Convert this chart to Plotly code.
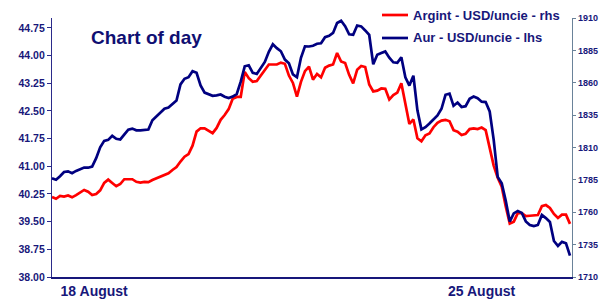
import plotly.graph_objects as go

# Silver (Argint) USD/oz - left axis values as plotted
silver = [40.17, 40.12, 40.20, 40.18, 40.21, 40.16, 40.22, 40.29, 40.36, 40.31,
          40.22, 40.25, 40.35, 40.55, 40.64, 40.55, 40.46, 40.52, 40.65, 40.65,
          40.65, 40.58, 40.56, 40.58, 40.57, 40.63, 40.67, 40.72, 40.76, 40.81,
          40.90, 40.98, 41.13, 41.26, 41.33, 41.56, 41.94, 42.03, 42.03, 41.97,
          41.90, 42.04, 42.26, 42.39, 42.55, 42.83, 42.88, 42.88, 43.56, 43.39,
          43.29, 43.31, 43.45, 43.61, 43.76, 43.76, 43.76, 43.81, 43.78, 43.46,
          43.26, 42.89, 43.29, 43.58, 43.70, 43.35, 43.50, 43.41, 43.67, 43.73,
          43.76, 44.07, 43.84, 43.80, 43.48, 43.25, 43.62, 43.72, 43.69, 43.22,
          43.03, 43.05, 43.11, 43.10, 42.81, 42.93, 43.00, 43.25, 42.65, 42.15,
          42.27, 41.76, 41.68, 41.84, 41.89, 42.06, 42.18, 42.24, 42.26, 42.22,
          41.98, 41.94, 41.85, 41.88, 42.01, 42.03, 42.01, 42.05, 41.98, 41.50,
          41.02, 40.69, 40.45, 39.91, 39.45, 39.50, 39.73, 39.73, 39.65, 39.66,
          39.66, 39.68, 39.92, 39.95, 39.87, 39.71, 39.60, 39.69, 39.69, 39.44]

# Gold (Aur) USD/oz - right axis values as plotted
gold = [1786.2, 1785.1, 1787.8, 1791.1, 1791.6, 1790.2, 1791.9, 1792.9, 1794.5, 1794.4,
        1795.3, 1801.8, 1810.1, 1815.1, 1815.9, 1819.0, 1816.7, 1816.2, 1819.6, 1823.7,
        1824.6, 1823.3, 1823.3, 1823.4, 1823.9, 1831.1, 1834.1, 1837.7, 1840.0, 1840.8,
        1843.2, 1846.2, 1858.7, 1863.1, 1864.3, 1868.9, 1867.7, 1858.0, 1852.4, 1851.0,
        1849.9, 1850.2, 1850.9, 1849.2, 1848.2, 1849.3, 1851.2, 1860.8, 1872.7, 1873.5,
        1867.7, 1866.8, 1871.0, 1876.1, 1883.9, 1889.7, 1886.7, 1884.3, 1877.9, 1875.1,
        1866.4, 1864.2, 1879.3, 1888.1, 1888.0, 1888.6, 1890.1, 1890.5, 1895.2, 1896.3,
        1898.5, 1906.1, 1907.9, 1903.7, 1897.4, 1897.1, 1904.2, 1903.5, 1900.4, 1896.9,
        1874.3, 1881.6, 1882.9, 1884.2, 1879.4, 1875.8, 1875.4, 1879.7, 1864.2, 1857.8,
        1865.4, 1838.7, 1824.0, 1825.7, 1828.5, 1831.6, 1834.8, 1839.9, 1850.7, 1851.6,
        1842.2, 1844.7, 1841.3, 1841.9, 1847.6, 1849.3, 1848.0, 1845.4, 1845.1, 1837.9,
        1815.9, 1787.3, 1782.4, 1768.8, 1752.8, 1759.1, 1761.0, 1759.5, 1752.9, 1750.2,
        1749.3, 1750.2, 1757.9, 1755.5, 1752.5, 1737.8, 1734.0, 1737.1, 1736.0, 1726.5]

idx = list(range(len(silver)))

left_ticks = [38.00, 38.75, 39.50, 40.25, 41.00, 41.75, 42.50, 43.25, 44.00, 44.75]
right_ticks = [1710, 1735, 1760, 1785, 1810, 1835, 1860, 1885, 1910]
x_label_pos = [10.5, 107]
x_labels = ["18 August", "25 August"]
series_names = ["Argint - USD/uncie - rhs", "Aur - USD/uncie - lhs"]
series_colors = ["#ff0000", "#000080"]

NAVY = "#17177a"
FONT = "Liberation Sans"

# page body has an 8px default margin: figure is drawn from (8, 8)
OFF = 8
W, H = 608 - OFF, 299 - OFF
L, R, T, B = 52 - OFF, 36, 18 - OFF, 22
PW, PH = W - L - R, H - T - B
PLOT_BOTTOM = 277


def px_x(px):
    return (px - 52) / PW


def px_y(py):
    return (PLOT_BOTTOM - py) / PH


fig = go.Figure()
fig.add_trace(go.Scatter(x=idx, y=silver, name=series_names[0],
                         mode="lines", line=dict(color=series_colors[0], width=2.7),
                         yaxis="y"))
fig.add_trace(go.Scatter(x=idx, y=gold, name=series_names[1],
                         mode="lines", line=dict(color=series_colors[1], width=2.7),
                         yaxis="y2"))

# manual legend (sample line + label)
shapes = []
annotations = []
for k, (nm, col) in enumerate(zip(series_names, series_colors)):
    yy = px_y(15 + 23 * k)
    shapes.append(dict(type="line", xref="paper", yref="paper",
                       x0=px_x(382), x1=px_x(408), y0=yy, y1=yy,
                       line=dict(color=col, width=2.7)))
    annotations.append(dict(text=nm, xref="paper", yref="paper",
                            x=px_x(411), y=yy, xanchor="left", yanchor="middle",
                            showarrow=False,
                            font=dict(family=FONT, size=13, color=NAVY, weight="bold")))

annotations.append(dict(text="Chart of day", xref="paper", yref="paper",
                        x=px_x(89), y=px_y(38),
                        xanchor="left", yanchor="middle", showarrow=False,
                        font=dict(family=FONT, size=19, color="#0f0f72", weight="bold")))

fig.update_layout(
    width=W, height=H,
    margin=dict(l=L, r=R, t=T, b=B, autoexpand=False),
    paper_bgcolor="white", plot_bgcolor="white",
    font=dict(family=FONT, color=NAVY),
    showlegend=False,
    xaxis=dict(range=[0, 129.5], showgrid=False, zeroline=False,
               showline=True, linecolor=NAVY, linewidth=1.5,
               tickmode="array", tickvals=x_label_pos, ticktext=x_labels,
               ticks="", tickfont=dict(family=FONT, size=14, color=NAVY, weight="bold")),
    yaxis=dict(range=[38, 45.02], showgrid=False, zeroline=False,
               showline=True, linecolor="#2b2b8a", linewidth=1.2,
               tickmode="array", tickvals=left_ticks,
               ticktext=[f"{v:.2f}" for v in left_ticks],
               ticks="outside", ticklen=4, tickcolor="#2b2b8a",
               tickfont=dict(family=FONT, size=10.5, color=NAVY, weight="bold")),
    yaxis2=dict(range=[1710, 1910], overlaying="y", side="right",
                showgrid=False, zeroline=False,
                showline=True, linecolor="#6a8299", linewidth=1.2,
                tickmode="array", tickvals=right_ticks,
                ticks="outside", ticklen=3, tickcolor="#6a8299",
                tickfont=dict(family=FONT, size=9, color=NAVY, weight="bold")),
    shapes=shapes,
    annotations=annotations,
)

fig.write_html("out.html")
